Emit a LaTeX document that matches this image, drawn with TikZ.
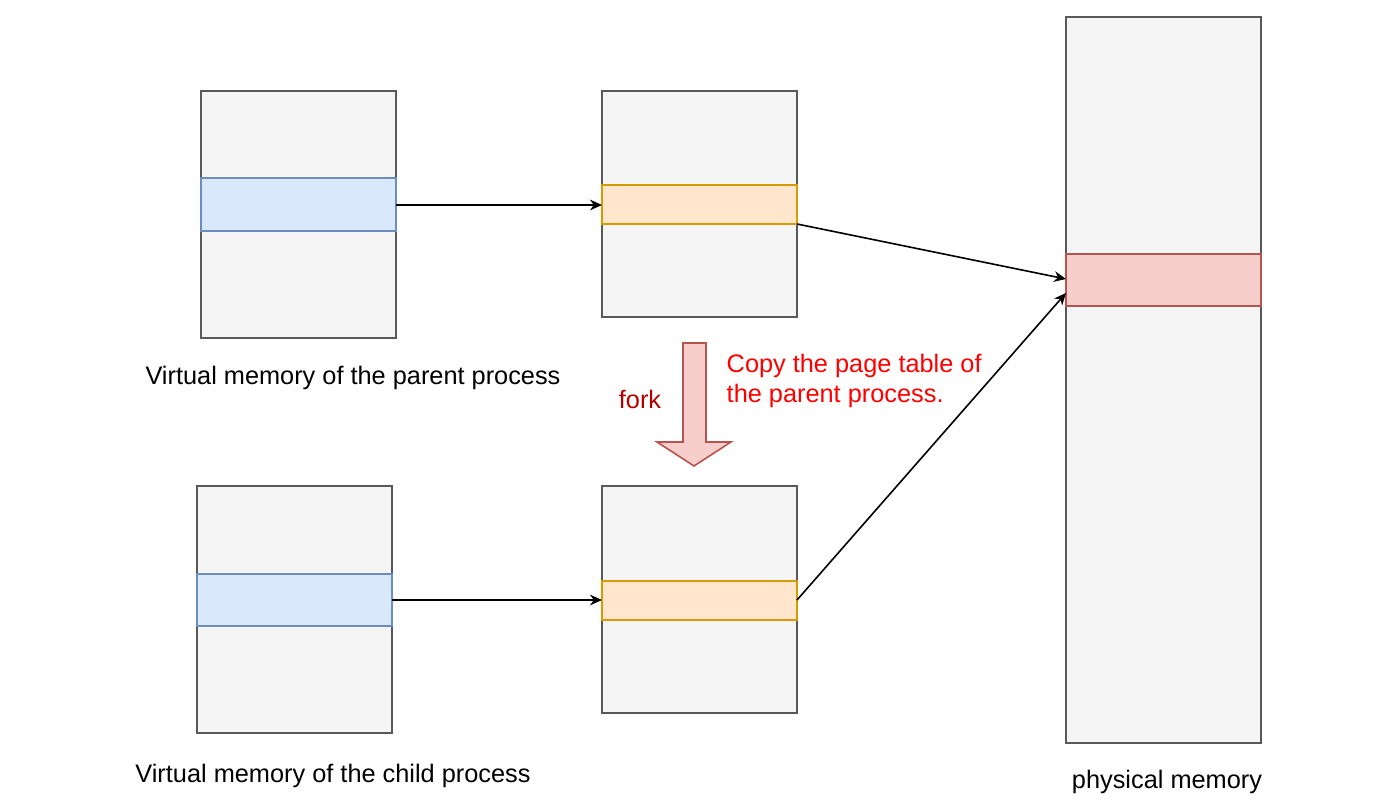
\documentclass[tikz,border=0pt]{standalone}
\usepackage{fontspec}
\setmainfont{Liberation Sans}
\usetikzlibrary{arrows.meta}
\begin{document}
\begin{tikzpicture}[x=0.75pt,y=-0.75pt,
  box/.style={draw=black!65,fill=black!4,line width=1.2pt},
  arr/.style={-{Stealth[length=9pt,width=8pt]},line width=1.2pt},
  lab/.style={font=\fontsize{19}{22}\selectfont}]
\useasboundingbox (0,0) rectangle (1400,807);
\definecolor{bstroke}{HTML}{6C8EBF}\definecolor{bfill}{HTML}{DAE8FC}
\definecolor{ostroke}{HTML}{D79B00}\definecolor{ofill}{HTML}{FFE6CC}
\definecolor{rstroke}{HTML}{B85450}\definecolor{rfill}{HTML}{F8CECC}
\tikzset{blue/.style={draw=bstroke,fill=bfill,line width=1.2pt},
 org/.style={draw=ostroke,fill=ofill,line width=1.2pt},
 redb/.style={draw=rstroke,fill=rfill,line width=1.2pt}}
\draw[box] (201,91) rectangle (396,338);
\draw[box] (602,91) rectangle (797,317);
\draw[box] (197,486) rectangle (392,733);
\draw[box] (602,486) rectangle (797,713);
\draw[box] (1066,17) rectangle (1261,743);
\draw[blue] (201,178) rectangle (396,231);
\draw[org] (602,185) rectangle (797,224);
\draw[blue] (197,574) rectangle (392,626);
\draw[org] (602,581) rectangle (797,620);
\draw[redb] (1066,254) rectangle (1261,306);
\coordinate (a1) at (396,205); \coordinate (b1) at (602,205);
\coordinate (a2) at (392,600); \coordinate (b2) at (602,600);
\coordinate (c1) at (797,224); \coordinate (c2) at (797,600);
\coordinate (p1) at (1066,279); \coordinate (p2) at (1066,293);
\draw[arr] (a1) -- (b1);
\draw[arr] (a2) -- (b2);
\draw[arr] (c1) -- (p1);
\draw[arr] (c2) -- (p2);
\draw[redb] (683,343) -- (706,343) -- (706,442) -- (731,442) -- (694,466) -- (657,442) -- (683,442) -- cycle;
\node[lab,text=red!70!black] (fork) at (640,399) {fork};
\node[lab,text=red,align=left,anchor=west] (copy) at (722,381) {Copy the page table of\\the parent process.};
\node[lab] (l1) at (353,378) {Virtual memory of the parent process};
\node[lab] (l2) at (333,776) {Virtual memory of the child process};
\node[lab] (l3) at (1167,782) {physical memory};
\end{tikzpicture}
\end{document}
